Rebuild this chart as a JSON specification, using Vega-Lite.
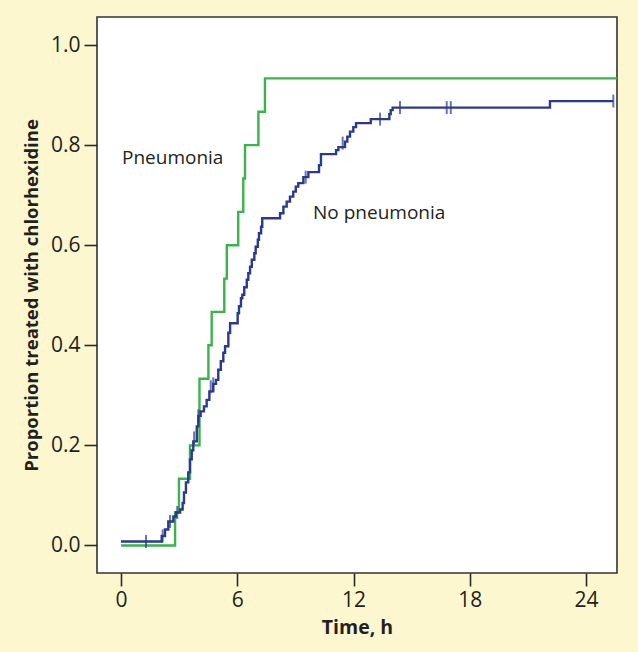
{
  "$schema": "https://vega.github.io/schema/vega-lite/v6.json",
  "width": 520,
  "height": 556,
  "autosize": {"type": "none"},
  "padding": {"left": 97, "top": 17, "right": 21, "bottom": 79},
  "background": "#fcf7cf",
  "config": {
    "view": {"stroke": "#333333", "strokeWidth": 1.6, "fill": "white"},
    "font": "Open Sans"
  },
  "datasets": {
    "curves": [
      {"group": "Pneumonia", "t": 0, "p": 0},
      {"group": "Pneumonia", "t": 2.79, "p": 0.0667},
      {"group": "Pneumonia", "t": 2.99, "p": 0.1333},
      {"group": "Pneumonia", "t": 3.56, "p": 0.2},
      {"group": "Pneumonia", "t": 4.05, "p": 0.3333},
      {"group": "Pneumonia", "t": 4.51, "p": 0.4},
      {"group": "Pneumonia", "t": 4.68, "p": 0.4667},
      {"group": "Pneumonia", "t": 5.33, "p": 0.5333},
      {"group": "Pneumonia", "t": 5.46, "p": 0.6},
      {"group": "Pneumonia", "t": 6.05, "p": 0.6667},
      {"group": "Pneumonia", "t": 6.31, "p": 0.7333},
      {"group": "Pneumonia", "t": 6.40, "p": 0.8},
      {"group": "Pneumonia", "t": 7.09, "p": 0.8667},
      {"group": "Pneumonia", "t": 7.43, "p": 0.9333},
      {"group": "Pneumonia", "t": 25.6, "p": 0.9333},
      {"group": "No pneumonia", "t": 0, "p": 0.008},
      {"group": "No pneumonia", "t": 2.10, "p": 0.019},
      {"group": "No pneumonia", "t": 2.27, "p": 0.032},
      {"group": "No pneumonia", "t": 2.44, "p": 0.048},
      {"group": "No pneumonia", "t": 2.70, "p": 0.058},
      {"group": "No pneumonia", "t": 2.84, "p": 0.066},
      {"group": "No pneumonia", "t": 3.05, "p": 0.072},
      {"group": "No pneumonia", "t": 3.18, "p": 0.085},
      {"group": "No pneumonia", "t": 3.25, "p": 0.106},
      {"group": "No pneumonia", "t": 3.35, "p": 0.126},
      {"group": "No pneumonia", "t": 3.47, "p": 0.146},
      {"group": "No pneumonia", "t": 3.56, "p": 0.172},
      {"group": "No pneumonia", "t": 3.65, "p": 0.19},
      {"group": "No pneumonia", "t": 3.73, "p": 0.208},
      {"group": "No pneumonia", "t": 3.91, "p": 0.238},
      {"group": "No pneumonia", "t": 3.99, "p": 0.259},
      {"group": "No pneumonia", "t": 4.11, "p": 0.268},
      {"group": "No pneumonia", "t": 4.28, "p": 0.278},
      {"group": "No pneumonia", "t": 4.42, "p": 0.291},
      {"group": "No pneumonia", "t": 4.56, "p": 0.308},
      {"group": "No pneumonia", "t": 4.76, "p": 0.323},
      {"group": "No pneumonia", "t": 4.90, "p": 0.331},
      {"group": "No pneumonia", "t": 5.02, "p": 0.351},
      {"group": "No pneumonia", "t": 5.15, "p": 0.368},
      {"group": "No pneumonia", "t": 5.28, "p": 0.385},
      {"group": "No pneumonia", "t": 5.37, "p": 0.398},
      {"group": "No pneumonia", "t": 5.54, "p": 0.425},
      {"group": "No pneumonia", "t": 5.63, "p": 0.444},
      {"group": "No pneumonia", "t": 6.02, "p": 0.464},
      {"group": "No pneumonia", "t": 6.09, "p": 0.478},
      {"group": "No pneumonia", "t": 6.19, "p": 0.494},
      {"group": "No pneumonia", "t": 6.26, "p": 0.501},
      {"group": "No pneumonia", "t": 6.36, "p": 0.516},
      {"group": "No pneumonia", "t": 6.49, "p": 0.531},
      {"group": "No pneumonia", "t": 6.57, "p": 0.544},
      {"group": "No pneumonia", "t": 6.66, "p": 0.557},
      {"group": "No pneumonia", "t": 6.75, "p": 0.571},
      {"group": "No pneumonia", "t": 6.88, "p": 0.584},
      {"group": "No pneumonia", "t": 6.95, "p": 0.597},
      {"group": "No pneumonia", "t": 7.06, "p": 0.611},
      {"group": "No pneumonia", "t": 7.12, "p": 0.624},
      {"group": "No pneumonia", "t": 7.23, "p": 0.637},
      {"group": "No pneumonia", "t": 7.29, "p": 0.654},
      {"group": "No pneumonia", "t": 8.21, "p": 0.664},
      {"group": "No pneumonia", "t": 8.38, "p": 0.677},
      {"group": "No pneumonia", "t": 8.55, "p": 0.687},
      {"group": "No pneumonia", "t": 8.72, "p": 0.697},
      {"group": "No pneumonia", "t": 8.89, "p": 0.707},
      {"group": "No pneumonia", "t": 9.02, "p": 0.717},
      {"group": "No pneumonia", "t": 9.15, "p": 0.724},
      {"group": "No pneumonia", "t": 9.41, "p": 0.736},
      {"group": "No pneumonia", "t": 9.67, "p": 0.746},
      {"group": "No pneumonia", "t": 10.22, "p": 0.760},
      {"group": "No pneumonia", "t": 10.32, "p": 0.782},
      {"group": "No pneumonia", "t": 11.10, "p": 0.790},
      {"group": "No pneumonia", "t": 11.22, "p": 0.796},
      {"group": "No pneumonia", "t": 11.56, "p": 0.807},
      {"group": "No pneumonia", "t": 11.68, "p": 0.817},
      {"group": "No pneumonia", "t": 11.82, "p": 0.827},
      {"group": "No pneumonia", "t": 11.99, "p": 0.836},
      {"group": "No pneumonia", "t": 12.13, "p": 0.844},
      {"group": "No pneumonia", "t": 12.89, "p": 0.852},
      {"group": "No pneumonia", "t": 13.85, "p": 0.862},
      {"group": "No pneumonia", "t": 13.92, "p": 0.870},
      {"group": "No pneumonia", "t": 14.02, "p": 0.875},
      {"group": "No pneumonia", "t": 22.14, "p": 0.888},
      {"group": "No pneumonia", "t": 25.41, "p": 0.888}
    ],
    "censored": [
      {"t": 1.29, "p": 0.008},
      {"t": 2.15, "p": 0.019},
      {"t": 2.53, "p": 0.048},
      {"t": 2.90, "p": 0.066},
      {"t": 3.77, "p": 0.215},
      {"t": 3.99, "p": 0.259},
      {"t": 4.63, "p": 0.317},
      {"t": 4.76, "p": 0.323},
      {"t": 9.53, "p": 0.736},
      {"t": 11.44, "p": 0.804},
      {"t": 13.37, "p": 0.852},
      {"t": 14.40, "p": 0.875},
      {"t": 16.81, "p": 0.875},
      {"t": 17.02, "p": 0.875},
      {"t": 25.41, "p": 0.888}
    ],
    "labels": [
      {"label": "Pneumonia", "t": 0.05, "p": 0.774},
      {"label": "No pneumonia", "t": 9.91, "p": 0.665}
    ]
  },
  "layer": [
    {
      "data": {"name": "curves"},
      "mark": {"type": "line", "interpolate": "step-after", "strokeWidth": 2.4, "clip": true},
      "encoding": {
        "x": {
          "field": "t", "type": "quantitative",
          "scale": {"domain": [-1.24, 25.6], "nice": false, "zero": false},
          "axis": {
            "values": [0, 6, 12, 18, 24], "title": "Time, h", "grid": false, "domain": false,
            "tickSize": 13, "tickColor": "#2a2a2a", "tickWidth": 1.6,
            "labelFontSize": 21, "labelColor": "#231f20", "labelPadding": 3,
            "titleFontSize": 19.5, "titleFontWeight": "bold", "titleColor": "#231f20", "titlePadding": 8
          }
        },
        "y": {
          "field": "p", "type": "quantitative",
          "scale": {"domain": [-0.055, 1.056], "nice": false, "zero": false},
          "axis": {
            "values": [0, 0.2, 0.4, 0.6, 0.8, 1.0], "format": ".1f",
            "title": "Proportion treated with chlorhexidine", "grid": false, "domain": false,
            "tickSize": 13, "tickColor": "#2a2a2a", "tickWidth": 1.6,
            "labelFontSize": 21, "labelColor": "#231f20", "labelPadding": 4,
            "titleFontSize": 18.5, "titleFontWeight": "bold", "titleColor": "#231f20", "titlePadding": 9
          }
        },
        "color": {
          "field": "group", "type": "nominal",
          "scale": {"domain": ["Pneumonia", "No pneumonia"], "range": ["#3bb34a", "#2b3990"]},
          "legend": null
        }
      }
    },
    {
      "data": {"name": "censored"},
      "mark": {"type": "tick", "orient": "vertical", "size": 13, "thickness": 2, "color": "#2b3990"},
      "encoding": {
        "x": {"field": "t", "type": "quantitative"},
        "y": {"field": "p", "type": "quantitative"}
      }
    },
    {
      "data": {"name": "labels"},
      "mark": {"type": "text", "align": "left", "baseline": "middle", "fontSize": 19, "color": "#231f20"},
      "encoding": {
        "x": {"field": "t", "type": "quantitative"},
        "y": {"field": "p", "type": "quantitative"},
        "text": {"field": "label"}
      }
    }
  ]
}
